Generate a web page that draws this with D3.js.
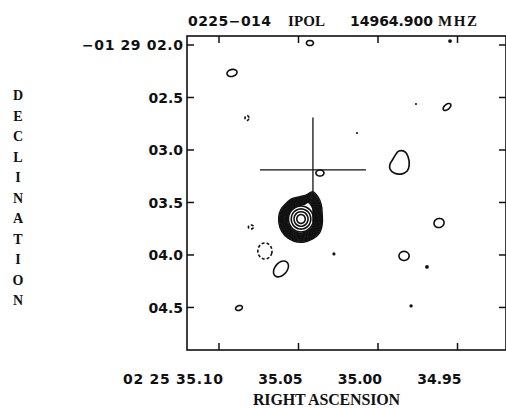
<!DOCTYPE html>
<html>
<head>
<meta charset="utf-8">
<script src="https://cdn.jsdelivr.net/npm/d3@7"></script>
<style>
  body { margin: 0; background: #fff; }
  svg { display: block; }
</style>
</head>
<body>
<div id="chart"></div>
<script>
// axis ticks: right ascension in seconds (02h 25m ..), declination in arcsec (-01 29 ..)
const raTicks = [35.10, 35.05, 35.00, 34.95];
const raLabels = ["02 25 35.10", "35.05", "35.00", "34.95"];
const decTicks = [2.0, 2.5, 3.0, 3.5, 4.0, 4.5];
const decLabels = ["\u221201 29 02.0", "02.5", "03.0", "03.5", "04.0", "04.5"];
const raDomain = [35.1198, 34.9192];
const decDomain = [1.919, 4.910];

// small contour islands: [ra, dec, rx", ry", angle deg, dashed]
const islands = [
  [35.0425, 1.986, 0.033, 0.024, 0, false],
  [35.0915, 2.271, 0.048, 0.033, -15, false],
  [35.0821, 2.700, 0.018, 0.024, 0, true],
  [34.9563, 2.595, 0.043, 0.024, -40, false],
  [35.0362, 3.224, 0.038, 0.029, 0, false],
  [35.0796, 3.738, 0.024, 0.019, 0, true],
  [35.0708, 3.967, 0.067, 0.076, 0, true],
  [35.0607, 4.138, 0.086, 0.057, -50, false],
  [35.0871, 4.510, 0.033, 0.022, -20, false],
  [34.9613, 3.700, 0.048, 0.043, -20, false],
  [34.9833, 4.014, 0.048, 0.043, 0, false]
];

// tiny one-pixel islands: [ra, dec, r"]
const dots = [
  [34.9758, 2.567, 0.010],
  [35.0129, 2.843, 0.010],
  [34.9544, 1.967, 0.018],
  [35.0274, 3.995, 0.015],
  [34.9689, 4.119, 0.018],
  [34.9789, 4.490, 0.016]
];

// irregular island east of the cross, offsets in arcsec (x west, y south)
const eastCenter = [34.9858, 3.129];
const eastOutline = [
  [-0.010, -0.114], [0.048, -0.105], [0.076, -0.057], [0.086, 0.019],
  [0.067, 0.076], [0.010, 0.105], [-0.057, 0.095], [-0.095, 0.057],
  [-0.095, 0.010], [-0.067, -0.038], [-0.038, -0.086]
];

// the core: outer contour shape and scaled levels, inner near-circular rings
const coreCenter = [35.0481, 3.662];
const coreShape = [
  [-0.143, -0.133], [-0.086, -0.181], [-0.019, -0.200], [0.048, -0.219],
  [0.105, -0.248], [0.152, -0.200], [0.181, -0.133], [0.190, -0.048],
  [0.190, 0.048], [0.162, 0.133], [0.105, 0.181], [0.019, 0.210],
  [-0.067, 0.200], [-0.143, 0.152], [-0.190, 0.076], [-0.200, -0.019],
  [-0.181, -0.086]
];
const coreScales = [1.05, 1.0, 0.96, 0.92, 0.88, 0.84, 0.8, 0.76, 0.72, 0.68, 0.64];
const coreRings = [0.118, 0.092, 0.066, 0.040];

// position cross
const crossCenter = [35.0406, 3.195];
const crossHalf = 0.5;

const W = 506, H = 408;
const box = { left: 187, top: 36, right: 506, bottom: 350 };

const svg = d3.select('#chart').append('svg')
  .attr('width', W).attr('height', H);

const x = d3.scaleLinear().domain(raDomain).range([box.left, box.right]);
const y = d3.scaleLinear().domain(decDomain).range([box.top, box.bottom]);

// offsets in arcsec -> pixel position
const px = (ra, dx) => x(ra - dx / 15);
const py = (dec, dy) => y(dec + dy);

const ink = '#111';
const sans = "'DejaVu Sans', sans-serif";
const serif = "'Liberation Serif', 'DejaVu Serif', serif";

svg.append('rect')
  .attr('x', box.left).attr('y', box.top)
  .attr('width', box.right - box.left).attr('height', box.bottom - box.top)
  .attr('fill', 'none').attr('stroke', ink).attr('stroke-width', 1.6);

const tick = 7;
const axB = svg.append('g').attr('transform', `translate(0,${box.bottom})`)
  .call(d3.axisBottom(x).tickValues(raTicks).tickSizeInner(-tick).tickSizeOuter(0)
    .tickPadding(24).tickFormat((d, i) => raLabels[i]));
const axT = svg.append('g').attr('transform', `translate(0,${box.top})`)
  .call(d3.axisTop(x).tickValues(raTicks).tickSizeInner(-tick).tickSizeOuter(0).tickFormat(''));
const axL = svg.append('g').attr('transform', `translate(${box.left},0)`)
  .call(d3.axisLeft(y).tickValues(decTicks).tickSizeInner(-tick).tickSizeOuter(0)
    .tickPadding(4).tickFormat((d, i) => decLabels[i]));
const axR = svg.append('g').attr('transform', `translate(${box.right},0)`)
  .call(d3.axisRight(y).tickValues(decTicks).tickSizeInner(-tick).tickSizeOuter(0).tickFormat(''));

[axB, axT, axL, axR].forEach(g => {
  g.select('.domain').remove();
  g.selectAll('.tick line').attr('stroke', ink).attr('stroke-width', 1.5);
});

axB.selectAll('.tick text')
  .attr('text-anchor', 'end').attr('x', 4)
  .attr('font-family', sans).attr('font-weight', 'bold').attr('font-size', 14)
  .attr('fill', ink)
  .attr('textLength', (d, i) => i === 0 ? 100 : null);

axL.selectAll('.tick text')
  .attr('dy', '0.72em').attr('y', -5)
  .attr('font-family', sans).attr('font-weight', 'bold').attr('font-size', 14)
  .attr('fill', ink)
  .attr('textLength', (d, i) => i === 0 ? 101 : null);

// title
const title = svg.append('g').attr('fill', ink);
title.append('text').attr('x', 188).attr('y', 26)
  .attr('font-family', sans).attr('font-weight', 'bold').attr('font-size', 14)
  .attr('textLength', 83).text('0225\u2212014');
title.append('text').attr('x', 288).attr('y', 26)
  .attr('font-family', serif).attr('font-weight', 'bold').attr('font-size', 15)
  .attr('textLength', 37).text('IPOL');
title.append('text').attr('x', 350).attr('y', 26)
  .attr('font-family', sans).attr('font-weight', 'bold').attr('font-size', 14)
  .attr('textLength', 83).text('14964.900');
title.append('text').attr('x', 438).attr('y', 26)
  .attr('font-family', serif).attr('font-weight', 'bold').attr('font-size', 15)
  .attr('textLength', 39).text('MHZ');

// axis titles
svg.append('text').attr('x', 253).attr('y', 405)
  .attr('font-family', serif).attr('font-weight', 'bold').attr('font-size', 16)
  .attr('textLength', 147).attr('fill', ink).text('RIGHT ASCENSION');

svg.append('g').selectAll('text')
  .data('DECLINATION'.split(''))
  .join('text')
  .attr('x', 18).attr('y', (d, i) => 100 + i * 20.5)
  .attr('text-anchor', 'middle')
  .attr('font-family', serif).attr('font-weight', 'bold').attr('font-size', 14)
  .attr('fill', ink).text(d => d);

// contours
const plot = svg.append('g');
const closed = d3.line().curve(d3.curveCatmullRomClosed.alpha(0.5));

function ellipsePts(ra, dec, rx, ry, ang) {
  const a = ang * Math.PI / 180;
  return d3.range(0, 24).map(k => {
    const t = k / 24 * 2 * Math.PI;
    const ex = rx * Math.cos(t), ey = ry * Math.sin(t);
    const dx = ex * Math.cos(a) - ey * Math.sin(a);
    const dy = ex * Math.sin(a) + ey * Math.cos(a);
    return [px(ra, dx), py(dec, dy)];
  });
}

plot.selectAll('path.island')
  .data(islands)
  .join('path')
  .attr('class', 'island')
  .attr('d', d => closed(ellipsePts(d[0], d[1], d[2], d[3], d[4])))
  .attr('fill', 'none').attr('stroke', ink).attr('stroke-width', 1.6)
  .attr('stroke-dasharray', d => d[5] ? '3,2' : null);

plot.selectAll('circle.dot')
  .data(dots)
  .join('circle')
  .attr('class', 'dot')
  .attr('cx', d => x(d[0])).attr('cy', d => y(d[1]))
  .attr('r', d => d[2] * (y(1) - y(0)))
  .attr('fill', ink);

plot.append('path')
  .attr('d', closed(eastOutline.map(o => [px(eastCenter[0], o[0]), py(eastCenter[1], o[1])])))
  .attr('fill', 'none').attr('stroke', ink).attr('stroke-width', 1.7);

plot.selectAll('path.core')
  .data(coreScales)
  .join('path')
  .attr('class', 'core')
  .attr('d', s => closed(coreShape.map(o => [px(coreCenter[0], o[0] * s), py(coreCenter[1], o[1] * s)])))
  .attr('fill', 'none').attr('stroke', ink).attr('stroke-width', 1.5);

plot.selectAll('path.ring')
  .data(coreRings)
  .join('path')
  .attr('class', 'ring')
  .attr('d', r => closed(ellipsePts(coreCenter[0], coreCenter[1], r, r * 1.05, 0)))
  .attr('fill', 'none').attr('stroke', ink).attr('stroke-width', 1.6);

// cross
plot.append('line')
  .attr('x1', px(crossCenter[0], -crossHalf)).attr('x2', px(crossCenter[0], crossHalf))
  .attr('y1', y(crossCenter[1])).attr('y2', y(crossCenter[1]))
  .attr('stroke', ink).attr('stroke-width', 1.3);
plot.append('line')
  .attr('x1', x(crossCenter[0])).attr('x2', x(crossCenter[0]))
  .attr('y1', py(crossCenter[1], -crossHalf)).attr('y2', py(crossCenter[1], crossHalf))
  .attr('stroke', ink).attr('stroke-width', 1.3);
</script>
</body>
</html>
